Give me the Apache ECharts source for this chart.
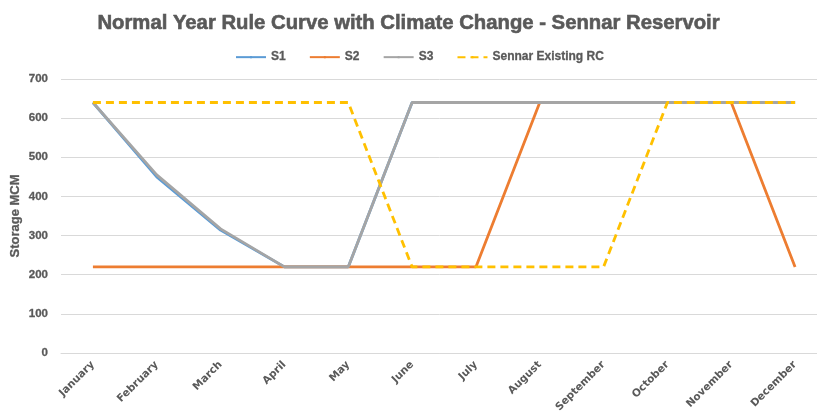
<!DOCTYPE html>
<html>
<head>
<meta charset="utf-8">
<script src="https://cdn.jsdelivr.net/npm/echarts@6/dist/echarts.min.js"></script>
<style>
  html, body { margin: 0; padding: 0; background: #fff; }
  #chart { width: 817px; height: 413px; }
</style>
</head>
<body>
<div id="chart"></div>
<script>
// Monthly storage (MCM) for each rule-curve scenario
const months = ['January', 'February', 'March', 'April', 'May', 'June',
  'July', 'August', 'September', 'October', 'November', 'December'];
const s1 = [640, 450, 314, 220, 220, 640, 640, 640, 640, 640, 640, 640];
const s2 = [220, 220, 220, 220, 220, 220, 220, 640, 640, 640, 640, 220];
const s3 = [640, 455, 317, 220, 220, 640, 640, 640, 640, 640, 640, 640];
const existingRC = [640, 640, 640, 640, 640, 220, 220, 220, 220, 640, 640, 640];
const yTicks = [0, 100, 200, 300, 400, 500, 600, 700];

const textColor = '#595959';
const font = '"Liberation Sans", Arial, sans-serif';

function lineSeries(name, data, color, dashed, z) {
  return {
    name: name,
    type: 'line',
    data: data,
    symbol: 'none',
    z: z,
    lineStyle: { color: color, width: 2.8, type: dashed ? [8, 5] : 'solid', cap: 'butt' },
    itemStyle: { color: color }
  };
}

const chart = echarts.init(document.getElementById('chart'), null, { renderer: 'canvas' });
chart.setOption({
  animation: false,
  backgroundColor: '#ffffff',
  title: {
    text: 'Normal Year Rule Curve with Climate Change - Sennar Reservoir',
    left: 'center',
    top: 8,
    textStyle: {
      fontFamily: font, fontWeight: 'bold', fontSize: 20.3, color: textColor,
      textBorderColor: textColor, textBorderWidth: 0.6
    }
  },
  legend: {
    top: 46,
    left: 230,
    itemWidth: 30,
    itemHeight: 3,
    itemGap: 23,
    textStyle: {
      fontFamily: font, fontWeight: 'bold', fontSize: 12, color: textColor,
      textBorderColor: textColor, textBorderWidth: 0.3
    },
    data: ['S1', 'S2', 'S3', 'Sennar Existing RC']
  },
  grid: { left: 61, right: -10, top: 79, bottom: 60, containLabel: false, outerBoundsMode: 'none' },
  xAxis: {
    type: 'category',
    data: months,
    boundaryGap: true,
    axisLine: { show: true, lineStyle: { color: '#d9d9d9', width: 1 } },
    axisTick: { show: false },
    axisLabel: {
      rotate: 45,
      interval: 0,
      margin: 10,
      fontFamily: '"DejaVu Sans", Verdana, sans-serif',
      fontWeight: 'bold',
      fontSize: 10.5,
      color: textColor
    }
  },
  yAxis: {
    type: 'value',
    min: yTicks[0],
    max: yTicks[yTicks.length - 1],
    interval: 100,
    name: 'Storage MCM',
    nameLocation: 'middle',
    nameGap: 39,
    nameMoveOverlap: false,
    nameTextStyle: {
      fontFamily: font, fontWeight: 'bold', fontSize: 13, color: textColor,
      textBorderColor: textColor, textBorderWidth: 0.3
    },
    axisLine: { show: false },
    axisTick: { show: false },
    splitLine: { lineStyle: { color: '#d9d9d9', width: 1 } },
    axisLabel: {
      fontFamily: font, fontWeight: 'bold', fontSize: 11.5, color: textColor, margin: 13,
      textBorderColor: textColor, textBorderWidth: 0.3
    }
  },
  series: [
    lineSeries('S1', s1, '#5B9BD5', false, 2),
    lineSeries('S2', s2, '#ED7D31', false, 3),
    lineSeries('S3', s3, '#A5A5A5', false, 4),
    lineSeries('Sennar Existing RC', existingRC, '#FFC000', true, 5)
  ]
});
</script>
</body>
</html>
